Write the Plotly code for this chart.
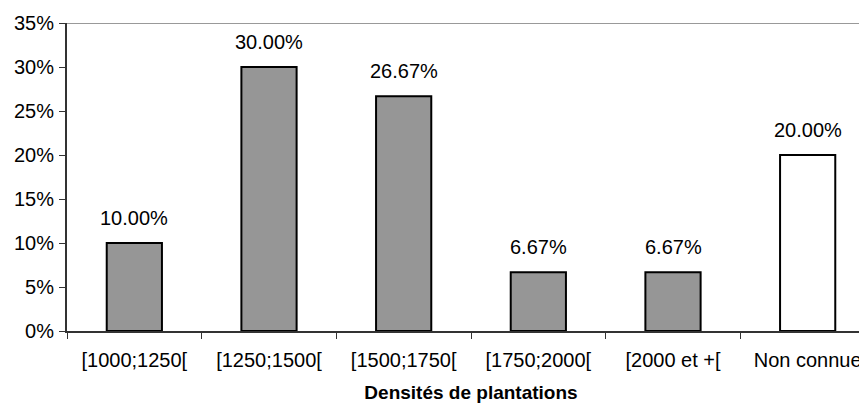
import plotly.graph_objects as go

categories = ["[1000;1250[", "[1250;1500[", "[1500;1750[", "[1750;2000[", "[2000 et +[", "Non connue"]
values = [10.00, 30.00, 26.67, 6.67, 6.67, 20.00]
bar_colors = ["#969696", "#969696", "#969696", "#969696", "#969696", "#ffffff"]
y_ticks = [0, 5, 10, 15, 20, 25, 30, 35]
y_tick_labels = ["0%", "5%", "10%", "15%", "20%", "25%", "30%", "35%"]

FONT = "Liberation Sans, Arial, sans-serif"

fig = go.Figure()
fig.add_trace(go.Bar(
    x=categories,
    y=values,
    marker=dict(color=bar_colors, line=dict(color="black", width=2)),
    width=0.41,
    cliponaxis=False,
))

for c, v in zip(categories, values):
    fig.add_annotation(x=c, y=v, xref="x", yref="y", text=f"{v:.2f}%",
                       showarrow=False, yanchor="bottom", yshift=12,
                       font=dict(family=FONT, size=20, color="black"))

fig.update_layout(
    width=867, height=415,
    margin=dict(l=59, r=0, t=15, b=92),
    paper_bgcolor="white", plot_bgcolor="white",
    showlegend=False,
    font=dict(family=FONT, size=20, color="black"),
    xaxis=dict(
        range=[-0.5, 5.5],
        showline=True, linecolor="#333333", linewidth=2,
        ticks="outside", tickson="boundaries", ticklen=6, tickcolor="#333333", tickwidth=1,
        ticklabelstandoff=10,
        tickfont=dict(family=FONT, size=20, color="black"),
        title=dict(text="<b>Densités de plantations</b>", font=dict(family=FONT, size=19, color="black"), standoff=16),
        automargin=False,
    ),
    yaxis=dict(
        range=[0, 35],
        tickvals=y_ticks, ticktext=y_tick_labels,
        showline=True, linecolor="#333333", linewidth=2,
        ticks="outside", ticklen=6, tickcolor="#333333", tickwidth=1,
        ticklabelstandoff=1,
        showgrid=False, zeroline=False,
        tickfont=dict(family=FONT, size=20, color="black"),
        automargin=False,
    ),
)
fig.add_shape(type="line", xref="paper", yref="y", x0=0, x1=1, y0=35, y1=35,
              line=dict(color="#999999", width=2))

fig.write_html("out.html")
